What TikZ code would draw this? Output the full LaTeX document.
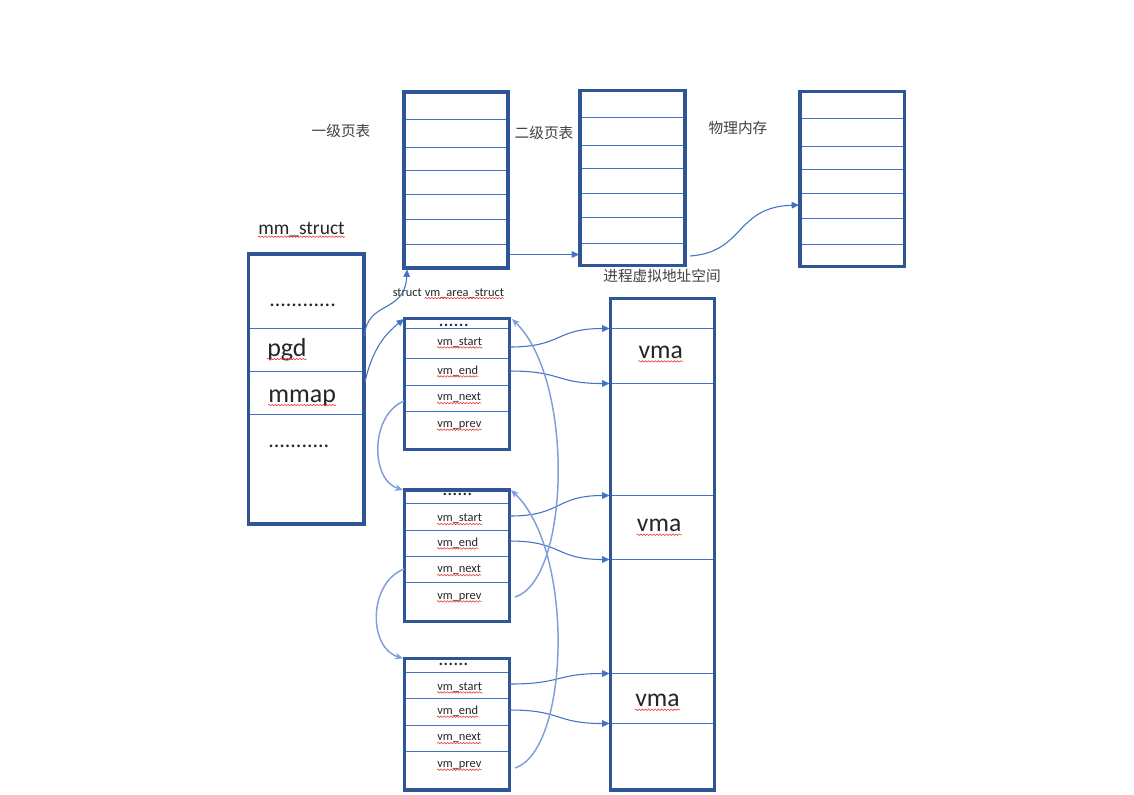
\documentclass[tikz,border=0pt]{standalone}
\usepackage{fontspec}
\setmainfont{Carlito}
\newfontfamily\cjk{Noto Sans CJK SC}
\usetikzlibrary{arrows.meta,fit,decorations.pathmorphing}
\definecolor{boxblue}{HTML}{2F5597}
\definecolor{lineblue}{HTML}{4472C4}
\definecolor{lightblue}{HTML}{7F9FDA}
\definecolor{txt}{HTML}{262626}
\definecolor{cntxt}{HTML}{404040}
\definecolor{squigred}{HTML}{E8403A}
\newcommand\squiggly[2][1.8]{\draw[squigline] ([yshift=-#1pt]#2.base west) -- ([yshift=-#1pt]#2.base east);}
\begin{document}
\begin{tikzpicture}[x=0.75pt,y=-0.75pt,
  boxnode/.style={draw=boxblue,line width=2.4pt,inner sep=0pt},
  rowline/.style={draw=lineblue,line width=0.75pt},
  lbl/.style={inner sep=0pt,text=txt},
  cnlbl/.style={inner sep=0pt,text=cntxt,font=\cjk\fontsize{11}{13}\selectfont},
  small/.style={lbl,font=\fontsize{9.3}{11}\selectfont,anchor=base west},
  big/.style={lbl,font=\fontsize{19.5}{22}\selectfont,anchor=base west},
  dots/.style={lbl,font=\fontsize{16.5}{18}\selectfont,anchor=base west},
  squigline/.style={draw=squigred,line width=0.45pt,decorate,decoration={snake,segment length=2.4pt,amplitude=0.55pt}},
  arr/.style={draw=lineblue,line width=0.8pt,-{Triangle[length=5.5pt,width=5pt]}},
  larr/.style={draw=lightblue,line width=1.1pt,-{Stealth[length=6pt,width=5pt]}}
]
\useasboundingbox (0,0) rectangle (1134,794);
\fill[white] (0,0) rectangle (1134,794);

% ---------- row lines ----------
\foreach \y in {119.5,147.5,170.5,194.5,219.5,244.5} \draw[rowline] (404,\y) -- (508,\y);
\foreach \y in {117.5,145.5,168.5,193.5,217.5,243.5} \draw[rowline] (580,\y) -- (685,\y);
\foreach \y in {118.5,146.5,169.5,193.5,218.5,244.5} \draw[rowline] (800,\y) -- (904.3,\y);
\foreach \y in {328.5,371.5,414.5} \draw[rowline] (248.3,\y) -- (364,\y);
\foreach \y in {328.5,358.5,385.5,411.5} \draw[rowline] (404.3,\y) -- (509.3,\y);
\foreach \y in {503.5,530.5,556.5,582.5} \draw[rowline] (404.3,\y) -- (509.3,\y);
\foreach \y in {672.5,698.5,725.5,751.5} \draw[rowline] (404.3,\y) -- (509.3,\y);
\foreach \y in {328.5,383.5,495.5,559.5,673.5,723.5} \draw[rowline] (610.7,\y) -- (714.3,\y);

% ---------- boxes ----------
\node[boxnode,fit={(404,92) (508,268)}] (pt1) {};
\node[boxnode,fit={(580,90.7) (685,265.7)}] (pt2) {};
\node[boxnode,fit={(800,91.7) (904.3,266.7)}] (phys) {};
\node[boxnode,fit={(248.3,254) (364,524)}] (mm) {};
\node[boxnode,fit={(404.3,318.7) (509.3,449.3)}] (vm1) {};
\node[boxnode,fit={(404.3,490) (509.3,621.7)}] (vm2) {};
\node[boxnode,fit={(404.3,658.3) (509.3,790)}] (vm3) {};
\node[boxnode,fit={(610.7,298.3) (714.3,790)}] (vas) {};

% ---------- titles ----------
\node[cnlbl] (t1) at (341,131) {一级页表};
\node[cnlbl] (t2) at (544,133) {二级页表};
\node[cnlbl] (t3) at (738,128) {物理内存};
\node[cnlbl] (t4) at (662,276) {进程虚拟地址空间};
\node[lbl,font=\fontsize{14.6}{17}\selectfont,anchor=base west] (tmm) at (258,234) {mm\_struct};
\squiggly[2]{tmm}
\node[small] (tvs1) at (392.5,296) {struct};
\node[small] (tvs2) at (424.5,296) {vm\_area\_struct};
\squiggly[1.6]{tvs2}

% ---------- mm_struct contents ----------
\node[dots] (md1) at (269,306) {............};
\node[big] (mpgd) at (267,356) {pgd};
\squiggly[2.3]{mpgd}
\node[big] (mmap) at (268,402) {mmap};
\squiggly[2.3]{mmap}
\node[dots] (md2) at (268,447) {...........};

% ---------- vm_area_struct contents ----------
\node[dots,font=\fontsize{15}{17}\selectfont] (d1) at (438.3,326) {......};
\node[small] (s1) at (437,345) {vm\_start}; \squiggly{s1}
\node[small] (e1) at (437,374) {vm\_end}; \squiggly{e1}
\node[small] (n1) at (437,400.7) {vm\_next}; \squiggly{n1}
\node[small] (p1) at (437,427.3) {vm\_prev}; \squiggly{p1}

\node[dots,font=\fontsize{15}{17}\selectfont] (d2) at (442,495.7) {......};
\node[small] (s2) at (437,521.7) {vm\_start}; \squiggly{s2}
\node[small] (e2) at (437,546) {vm\_end}; \squiggly{e2}
\node[small] (n2) at (437,572.7) {vm\_next}; \squiggly{n2}
\node[small] (p2) at (437,599) {vm\_prev}; \squiggly{p2}

\node[dots,font=\fontsize{15}{17}\selectfont] (d3) at (438,665) {......};
\node[small] (s3) at (437,690) {vm\_start}; \squiggly{s3}
\node[small] (e3) at (437,714.3) {vm\_end}; \squiggly{e3}
\node[small] (n3) at (437,740.7) {vm\_next}; \squiggly{n3}
\node[small] (p3) at (437,767.3) {vm\_prev}; \squiggly{p3}

% ---------- vma labels ----------
\node[big,font=\fontsize{19.2}{22}\selectfont] (va1) at (638.3,358.3) {vma}; \squiggly[2.3]{va1}
\node[big,font=\fontsize{19.2}{22}\selectfont] (va2) at (636.7,531.7) {vma}; \squiggly[2.3]{va2}
\node[big,font=\fontsize{19.2}{22}\selectfont] (va3) at (635,706.7) {vma}; \squiggly[2.3]{va3}

% ---------- connector endpoints ----------
\coordinate (pgdR) at (364.5,336);
\coordinate (pt1B) at (407,269.5);
\coordinate (mmapR) at (365,382);
\coordinate (vm1TL) at (404,319);
\coordinate (pt1R) at (509.5,254.5);
\coordinate (pt2L) at (579,254.5);
\coordinate (pt2R) at (690,256);
\coordinate (physL) at (799,205);

\coordinate (s1R) at (510,347);   \coordinate (vasA) at (609.5,328.5);
\coordinate (e1R) at (510,371);   \coordinate (vasB) at (609.5,383.5);
\coordinate (s2R) at (510,516);   \coordinate (vasC) at (609.5,495.5);
\coordinate (e2R) at (510,541);   \coordinate (vasD) at (609.5,559.5);
\coordinate (s3R) at (510,684);   \coordinate (vasE) at (609.5,673.5);
\coordinate (e3R) at (510,710);   \coordinate (vasF) at (609.5,723.5);

\coordinate (n1L) at (404,401);   \coordinate (vm2TL) at (403,490);
\coordinate (n2L) at (404,569);   \coordinate (vm3TL) at (403,658.3);
\coordinate (p2R) at (515,597);   \coordinate (vm1TR) at (512,319);
\coordinate (p3R) at (515,768);   \coordinate (vm2TR) at (511,490);

% ---------- connectors ----------
\draw[arr] (pgdR) .. controls (367,300) and (405,314) .. (pt1B);
\draw[arr] (mmapR) .. controls (372,350) and (385,334) .. (vm1TL);
\draw[arr] (pt1R) -- (pt2L);
\draw[arr] (pt2R) .. controls (745,252) and (735,207) .. (physL);

\draw[arr] (s1R) .. controls (562,347) and (555,328.5) .. (vasA);
\draw[arr] (e1R) .. controls (562,371) and (555,383.5) .. (vasB);
\draw[arr] (s2R) .. controls (562,516) and (555,495.5) .. (vasC);
\draw[arr] (e2R) .. controls (562,541) and (555,559.5) .. (vasD);
\draw[arr] (s3R) .. controls (562,684) and (555,673.5) .. (vasE);
\draw[arr] (e3R) .. controls (562,710) and (555,723.5) .. (vasF);

\draw[larr] (n1L) .. controls (370,415) and (370,480) .. (vm2TL);
\draw[larr] (n2L) .. controls (368,583) and (368,648) .. (vm3TL);
\draw[larr] (p2R) .. controls (570,580) and (575,380) .. (vm1TR);
\draw[larr] (p3R) .. controls (570,750) and (575,550) .. (vm2TR);
\end{tikzpicture}
\end{document}
